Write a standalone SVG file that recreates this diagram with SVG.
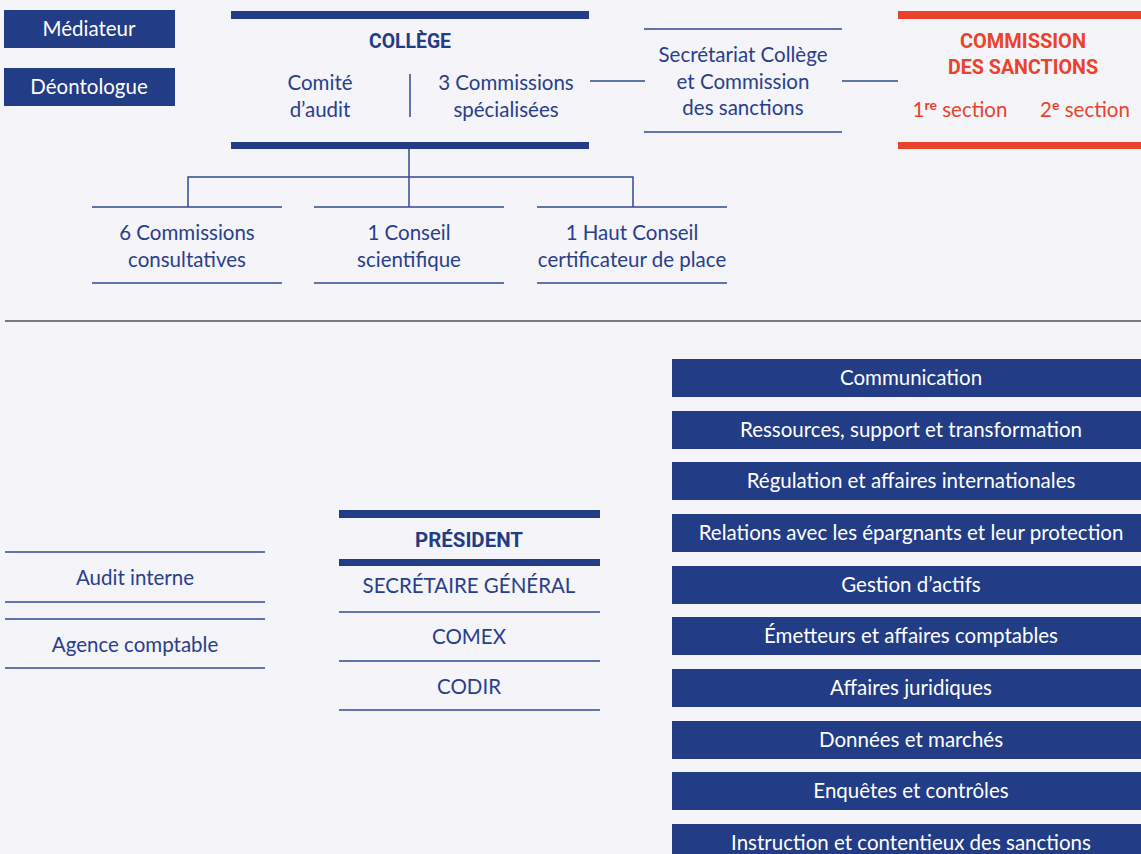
<svg xmlns="http://www.w3.org/2000/svg" width="1141" height="854" viewBox="0 0 1141 854">
<style>
text{font-family:Lato,"Liberation Sans",sans-serif;text-anchor:middle;}
.t{fill:#2a3f8a;font-size:20.5px;}
.w{fill:#ffffff;font-size:20.5px;}
.r{fill:#ea422b;font-size:20.5px;}
.b{fill:#233c86;font-size:21px;font-weight:bold;font-family:Roboto,"Liberation Sans",sans-serif;text-anchor:start;}
.rb{fill:#ea422b;font-size:21px;font-weight:bold;font-family:Roboto,"Liberation Sans",sans-serif;text-anchor:start;}
.box{fill:#223c86;}
.bar{fill:#223c86;}
.rbar{fill:#ea422b;}
.ln{stroke:#2f4a93;stroke-width:1.5;fill:none;}
</style>
<rect width="1141" height="854" fill="#f4f4f9"/>
<g id="mediateur"><rect class="box" x="4" y="10" width="171" height="38"/><text class="w" x="89" y="36">Médiateur</text></g>
<g id="deontologue"><rect class="box" x="4" y="68" width="171" height="38"/><text class="w" x="89" y="94">Déontologue</text></g>
<g id="college">
<rect class="bar" x="231" y="11" width="358" height="8"/>
<rect class="bar" x="231" y="142" width="358" height="7"/>
<text class="b" x="369" y="48" textLength="82" lengthAdjust="spacingAndGlyphs">COLLÈGE</text>
<line class="ln" x1="410" y1="74" x2="410" y2="117"/>
<text class="t" x="320" y="90">Comité</text>
<text class="t" x="320" y="117">d’audit</text>
<text class="t" x="506" y="90">3 Commissions</text>
<text class="t" x="506" y="117">spécialisées</text>
</g>
<g id="secretariat">
<line class="ln" x1="644" y1="29" x2="842" y2="29"/>
<line class="ln" x1="644" y1="132" x2="842" y2="132"/>
<text class="t" x="743" y="62">Secrétariat Collège</text>
<text class="t" x="743" y="89">et Commission</text>
<text class="t" x="743" y="115">des sanctions</text>
</g>
<g id="sanctions">
<rect class="rbar" x="898" y="11" width="243" height="8"/>
<rect class="rbar" x="898" y="142" width="243" height="7"/>
<text class="rb" x="960" y="48" textLength="126" lengthAdjust="spacingAndGlyphs">COMMISSION</text>
<text class="rb" x="948" y="74" textLength="150" lengthAdjust="spacingAndGlyphs">DES SANCTIONS</text>
<text class="r" x="960" y="117">1<tspan font-size="14" dy="-7" font-weight="bold">re</tspan><tspan dy="7"> section</tspan></text>
<text class="r" x="1085" y="117">2<tspan font-size="14" dy="-7" font-weight="bold">e</tspan><tspan dy="7"> section</tspan></text>
</g>
<g id="commissions-consultatives">
<line class="ln" x1="92" y1="207" x2="282" y2="207"/>
<line class="ln" x1="92" y1="283" x2="282" y2="283"/>
<text class="t" x="187" y="240">6 Commissions</text>
<text class="t" x="187" y="267">consultatives</text>
</g>
<g id="conseil-scientifique">
<line class="ln" x1="314" y1="207" x2="504" y2="207"/>
<line class="ln" x1="314" y1="283" x2="504" y2="283"/>
<text class="t" x="409" y="240">1 Conseil</text>
<text class="t" x="409" y="267">scientifique</text>
</g>
<g id="haut-conseil">
<line class="ln" x1="537" y1="207" x2="727" y2="207"/>
<line class="ln" x1="537" y1="283" x2="727" y2="283"/>
<text class="t" x="632" y="240">1 Haut Conseil</text>
<text class="t" x="632" y="267">certificateur de place</text>
</g>
<g id="connectors">
<line class="ln" x1="409" y1="149" x2="409" y2="207"/>
<polyline class="ln" points="188,207 188,177 633,177 633,207"/>
<line class="ln" x1="590" y1="81" x2="645" y2="81"/>
<line class="ln" x1="842" y1="81" x2="898" y2="81"/>
</g>
<line x1="5" y1="321" x2="1141" y2="321" stroke="#000000" stroke-width="1.2"/>
<g id="audit-interne">
<line class="ln" x1="5" y1="552" x2="265" y2="552"/>
<line class="ln" x1="5" y1="602" x2="265" y2="602"/>
<text class="t" x="135" y="585">Audit interne</text>
</g>
<g id="agence-comptable">
<line class="ln" x1="5" y1="619" x2="265" y2="619"/>
<line class="ln" x1="5" y1="668" x2="265" y2="668"/>
<text class="t" x="135" y="652">Agence comptable</text>
</g>
<g id="president">
<rect class="bar" x="339" y="510" width="261" height="8"/>
<rect class="bar" x="339" y="559" width="261" height="7"/>
<text class="b" x="415" y="547" textLength="108" lengthAdjust="spacingAndGlyphs">PRÉSIDENT</text>
<text class="t" x="469" y="593">SECRÉTAIRE GÉNÉRAL</text>
<line class="ln" x1="339" y1="612" x2="600" y2="612"/>
<text class="t" x="469" y="644">COMEX</text>
<line class="ln" x1="339" y1="661" x2="600" y2="661"/>
<text class="t" x="469" y="694">CODIR</text>
<line class="ln" x1="339" y1="710" x2="600" y2="710"/>
</g>
<g id="d1"><rect class="box" x="672" y="359" width="469" height="38"/><text class="w" x="911" y="385">Communication</text></g>
<g id="d2"><rect class="box" x="672" y="411" width="469" height="38"/><text class="w" x="911" y="437">Ressources, support et transformation</text></g>
<g id="d3"><rect class="box" x="672" y="462" width="469" height="38"/><text class="w" x="911" y="488">Régulation et affaires internationales</text></g>
<g id="d4"><rect class="box" x="672" y="514" width="469" height="38"/><text class="w" x="911" y="540">Relations avec les épargnants et leur protection</text></g>
<g id="d5"><rect class="box" x="672" y="566" width="469" height="38"/><text class="w" x="911" y="592">Gestion d’actifs</text></g>
<g id="d6"><rect class="box" x="672" y="617" width="469" height="38"/><text class="w" x="911" y="643">Émetteurs et affaires comptables</text></g>
<g id="d7"><rect class="box" x="672" y="669" width="469" height="38"/><text class="w" x="911" y="695">Affaires juridiques</text></g>
<g id="d8"><rect class="box" x="672" y="721" width="469" height="38"/><text class="w" x="911" y="747">Données et marchés</text></g>
<g id="d9"><rect class="box" x="672" y="772" width="469" height="38"/><text class="w" x="911" y="798">Enquêtes et contrôles</text></g>
<g id="d10"><rect class="box" x="672" y="824" width="469" height="38"/><text class="w" x="911" y="850">Instruction et contentieux des sanctions</text></g>
</svg>
